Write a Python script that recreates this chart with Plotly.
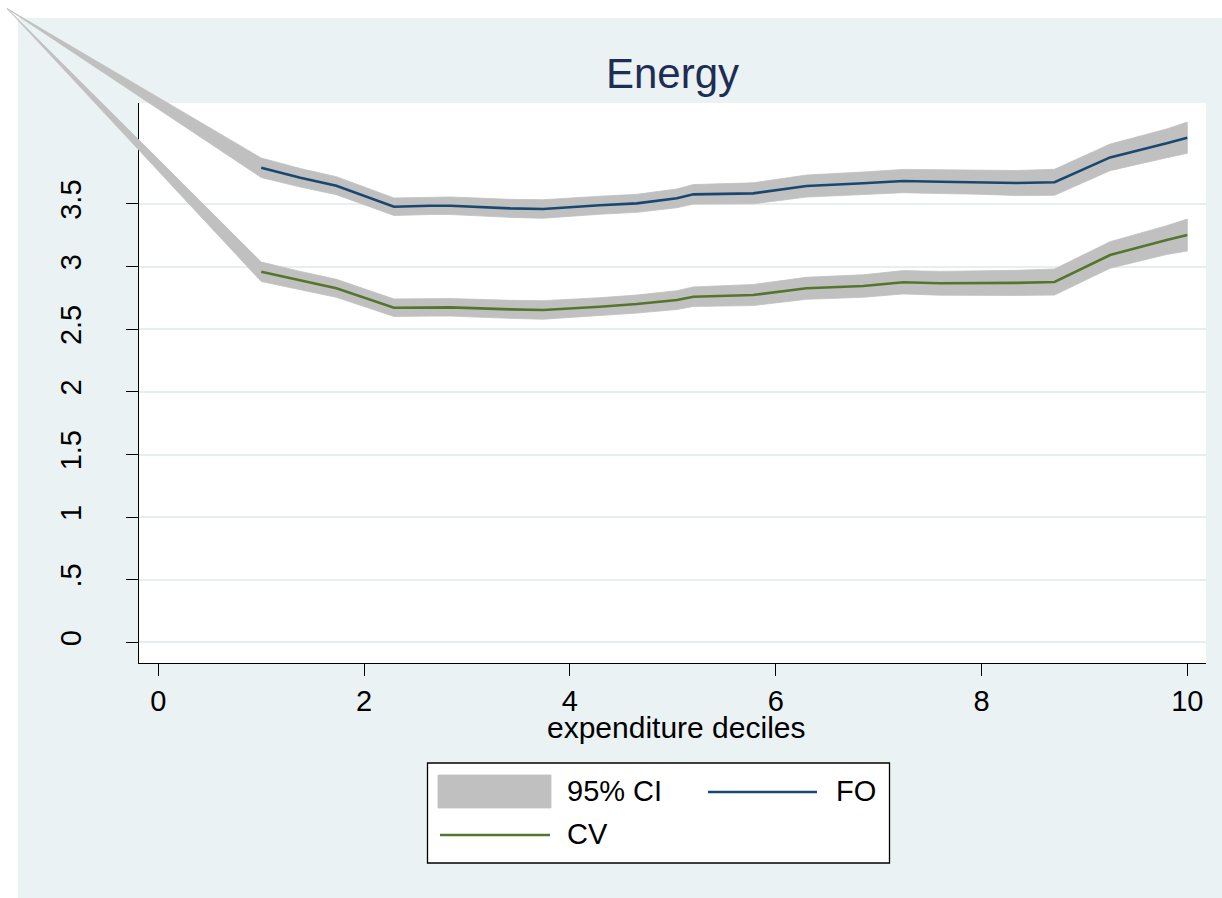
import plotly.graph_objects as go

# ---------------- data ----------------
decile_x = [1.00, 1.38, 1.73, 2.29, 2.64, 2.84, 3.42, 3.74, 4.29, 4.65, 5.04, 5.20,
            5.78, 6.30, 6.85, 7.24, 7.60, 7.98, 8.34, 8.71, 9.25, 9.80, 10.00]

fo = [3.789, 3.709, 3.646, 3.478, 3.486, 3.486, 3.465, 3.460, 3.490, 3.505, 3.545, 3.577,
      3.585, 3.643, 3.665, 3.683, 3.678, 3.675, 3.667, 3.673, 3.872, 3.984, 4.029]
fo_hi = [3.867, 3.783, 3.718, 3.548, 3.556, 3.556, 3.537, 3.534, 3.562, 3.577, 3.620, 3.655,
         3.669, 3.731, 3.755, 3.776, 3.773, 3.772, 3.767, 3.777, 3.978, 4.099, 4.154]
fo_lo = [3.711, 3.635, 3.574, 3.408, 3.416, 3.416, 3.393, 3.386, 3.418, 3.433, 3.470, 3.499,
         3.501, 3.555, 3.575, 3.590, 3.583, 3.578, 3.567, 3.569, 3.766, 3.869, 3.904]

cv = [2.959, 2.888, 2.827, 2.672, 2.675, 2.675, 2.659, 2.654, 2.680, 2.701, 2.733, 2.760,
      2.773, 2.827, 2.845, 2.875, 2.867, 2.867, 2.870, 2.877, 3.093, 3.212, 3.252]
cv_hi = [3.037, 2.962, 2.899, 2.742, 2.745, 2.745, 2.731, 2.728, 2.752, 2.773, 2.808, 2.838,
         2.857, 2.915, 2.935, 2.968, 2.962, 2.964, 2.970, 2.981, 3.199, 3.327, 3.380]
cv_lo = [2.881, 2.814, 2.755, 2.602, 2.605, 2.605, 2.587, 2.580, 2.608, 2.629, 2.658, 2.682,
         2.689, 2.739, 2.755, 2.782, 2.772, 2.770, 2.770, 2.773, 2.987, 3.097, 3.124]

# the CI areas in the source graph begin at a stray out-of-range point
ci_start_x = -1.47
ci_start_y = 5.06

x_tickvals = [0, 2, 4, 6, 8, 10]
y_tickvals = [0, 0.5, 1, 1.5, 2, 2.5, 3, 3.5]
y_ticktext = ["0", ".5", "1", "1.5", "2", "2.5", "3", "3.5"]

title_text = "Energy"
x_title = "expenditure deciles"
legend_labels = ["95% CI", "FO", "CV"]

# ---------------- style / layout ----------------
FONT = "Liberation Sans, Arial, Helvetica, sans-serif"
BG = "#eaf2f3"
GRID = "#e6eef0"
CI_COLOR = "#c0c0c0"
FO_COLOR = "#1a476f"
CV_COLOR = "#55752f"
TITLE_COLOR = "#1e2d53"

FIG_W, FIG_H = 1222, 898
PLOT_L, PLOT_T, PLOT_R, PLOT_B = 139, 103, 1206, 663
X_RANGE = [-0.188, 10.182]
Y_RANGE = [-0.164, 4.306]

kx = (PLOT_R - PLOT_L) / (X_RANGE[1] - X_RANGE[0])
ky = (PLOT_B - PLOT_T) / (Y_RANGE[1] - Y_RANGE[0])
# full-figure overlay axes, aligned with the main axes (lets the CI areas run past the frame)
X2_RANGE = [X_RANGE[0] - PLOT_L / kx, X_RANGE[1] + (FIG_W - PLOT_R) / kx]
Y2_RANGE = [Y_RANGE[0] - (FIG_H - PLOT_B) / ky, Y_RANGE[1] + PLOT_T / ky]


def px(x):
    return x / FIG_W


def py(y):
    return 1 - y / FIG_H


fig = go.Figure()

# empty trace so the main (visible) axes subplot is created
fig.add_trace(go.Scatter(x=[], y=[], xaxis="x", yaxis="y", showlegend=False, hoverinfo="skip"))


def band(hi, lo, name):
    xs = [ci_start_x] + decile_x + decile_x[::-1] + [ci_start_x]
    ys = [ci_start_y] + hi + lo[::-1] + [ci_start_y]
    return go.Scatter(x=xs, y=ys, fill="toself", fillcolor=CI_COLOR, mode="lines",
                      line=dict(color=CI_COLOR, width=0.8), name=name,
                      xaxis="x2", yaxis="y2", showlegend=False, hoverinfo="skip")


fig.add_trace(band(fo_hi, fo_lo, legend_labels[0]))
fig.add_trace(band(cv_hi, cv_lo, legend_labels[0]))
fig.add_trace(go.Scatter(x=decile_x, y=fo, mode="lines", name=legend_labels[1],
                         line=dict(color=FO_COLOR, width=2.6), xaxis="x2", yaxis="y2",
                         showlegend=False))
fig.add_trace(go.Scatter(x=decile_x, y=cv, mode="lines", name=legend_labels[2],
                         line=dict(color=CV_COLOR, width=2.6), xaxis="x2", yaxis="y2",
                         showlegend=False))

shapes = [
    # white strips at the top and left edges of the image
    dict(type="rect", xref="paper", yref="paper", x0=0, x1=1, y0=py(18), y1=1,
         fillcolor="white", line=dict(width=0), layer="below"),
    dict(type="rect", xref="paper", yref="paper", x0=0, x1=px(18), y0=0, y1=1,
         fillcolor="white", line=dict(width=0), layer="below"),
    # white plot region
    dict(type="rect", xref="x domain", yref="y domain", x0=0, x1=1, y0=0, y1=1,
         fillcolor="white", line=dict(width=0), layer="below"),
    # legend box
    dict(type="rect", xref="paper", yref="paper", x0=px(427.5), x1=px(889.5),
         y0=py(863), y1=py(763), fillcolor="white", line=dict(color="black", width=1.3),
         layer="above"),
    # legend keys
    dict(type="rect", xref="paper", yref="paper", x0=px(438), x1=px(551),
         y0=py(808), y1=py(775), fillcolor=CI_COLOR, line=dict(color=CI_COLOR, width=0.8),
         layer="above"),
    dict(type="line", xref="paper", yref="paper", x0=px(708), x1=px(817),
         y0=py(792), y1=py(792), line=dict(color=FO_COLOR, width=2.6), layer="above"),
    dict(type="line", xref="paper", yref="paper", x0=px(440), x1=px(550),
         y0=py(835), y1=py(835), line=dict(color=CV_COLOR, width=2.6), layer="above"),
]

legend_font = dict(family=FONT, size=29, color="black")
annotations = [
    # x-axis title
    dict(text=x_title, xref="paper", yref="paper", x=px(677), y=py(727),
         xanchor="center", yanchor="middle", showarrow=False,
         font=dict(family=FONT, size=30, color="black")),
    # legend labels
    dict(text=legend_labels[0], xref="paper", yref="paper", x=px(565), y=py(791),
         xanchor="left", yanchor="middle", showarrow=False, font=legend_font),
    dict(text=legend_labels[1], xref="paper", yref="paper", x=px(834), y=py(791),
         xanchor="left", yanchor="middle", showarrow=False, font=legend_font),
    dict(text=legend_labels[2], xref="paper", yref="paper", x=px(565), y=py(834),
         xanchor="left", yanchor="middle", showarrow=False, font=legend_font),
]

fig.update_layout(
    width=FIG_W, height=FIG_H, autosize=False,
    margin=dict(l=0, r=0, t=0, b=0, pad=0),
    paper_bgcolor=BG, plot_bgcolor="rgba(0,0,0,0)",
    font=dict(family=FONT, color="black"),
    showlegend=False,
    title=dict(text=title_text, x=px((PLOT_L + PLOT_R) / 2), xanchor="center",
               y=py(73), yanchor="middle", xref="paper", yref="paper",
               font=dict(family=FONT, size=42, color=TITLE_COLOR)),
    xaxis=dict(domain=[px(PLOT_L), px(PLOT_R)], anchor="y", range=X_RANGE,
               tickmode="array", tickvals=x_tickvals, ticks="outside", ticklen=12,
               tickwidth=1.3, tickcolor="black", showline=True, linecolor="black",
               linewidth=1.3, showgrid=False, zeroline=False,
               tickfont=dict(family=FONT, size=29, color="black")),
    yaxis=dict(domain=[py(PLOT_B), py(PLOT_T)], anchor="x", range=Y_RANGE,
               tickmode="array", tickvals=y_tickvals, ticktext=y_ticktext,
               tickangle=-90, ticks="outside", ticklen=12, tickwidth=1.3,
               tickcolor="black", showline=True, linecolor="black", linewidth=1.3,
               showgrid=True, gridcolor=GRID, gridwidth=1.5, zeroline=False,
               ticklabelstandoff=33,
               tickfont=dict(family=FONT, size=29, color="black")),
    xaxis2=dict(domain=[0, 1], anchor="y2", range=X2_RANGE, visible=False, fixedrange=True),
    yaxis2=dict(domain=[0, 1], anchor="x2", range=Y2_RANGE, visible=False, fixedrange=True),
    shapes=shapes,
    annotations=annotations,
)

fig.write_html("out.html", config={"displayModeBar": False},
               post_script="document.body.style.margin='0';document.body.style.overflow='hidden';")
